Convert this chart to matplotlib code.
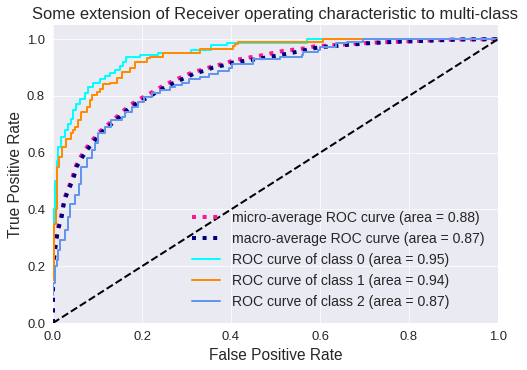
import matplotlib
matplotlib.use("Agg")
import matplotlib.pyplot as plt

plt.style.use("seaborn-v0_8-darkgrid")
plt.rcParams["font.family"] = ["Liberation Sans", "DejaVu Sans"]

title = "Some extension of Receiver operating characteristic to multi-class"
xlabel = "False Positive Rate"
ylabel = "True Positive Rate"

micro_fpr = [0, 0, 0.001, 0.004, 0.008, 0.012, 0.018, 0.023, 0.027, 0.037, 0.045, 0.052, 0.062, 0.074,
             0.089, 0.104, 0.122, 0.14, 0.16, 0.175, 0.196, 0.215, 0.235, 0.255, 0.275, 0.295, 0.315,
             0.338, 0.36, 0.383, 0.405, 0.428, 0.45, 0.473, 0.495, 0.518, 0.54, 0.562, 0.589, 0.63,
             0.68, 0.72, 0.77, 0.82, 0.87, 0.92, 1.0]
micro_tpr = [0, 0.13, 0.2, 0.26, 0.30, 0.34, 0.375, 0.415, 0.445, 0.485, 0.52, 0.555, 0.585, 0.615,
             0.645, 0.673, 0.697, 0.722, 0.75, 0.77, 0.79, 0.806, 0.825, 0.842, 0.857, 0.871, 0.884,
             0.894, 0.905, 0.913, 0.925, 0.932, 0.938, 0.944, 0.952, 0.959, 0.963, 0.967, 0.975, 0.979,
             0.984, 0.988, 0.991, 0.994, 0.997, 0.999, 1.0]

macro_fpr = [0, 0, 0, 0.0007, 0.002, 0.0045, 0.008, 0.012, 0.019, 0.023, 0.027, 0.038, 0.046, 0.053,
             0.064, 0.076, 0.091, 0.106, 0.124, 0.143, 0.162, 0.177, 0.199, 0.218, 0.237, 0.256, 0.278,
             0.297, 0.315, 0.338, 0.36, 0.383, 0.405, 0.443, 0.465, 0.488, 0.51, 0.537, 0.559, 0.581,
             0.607, 0.63, 0.652, 0.679, 0.701, 0.724, 0.772, 0.817, 0.866, 0.915, 1.0]
macro_tpr = [0, 0.03, 0.116, 0.187, 0.222, 0.257, 0.298, 0.333, 0.369, 0.41, 0.439, 0.48, 0.51, 0.55,
             0.58, 0.609, 0.638, 0.668, 0.691, 0.717, 0.744, 0.764, 0.783, 0.799, 0.818, 0.835, 0.85,
             0.864, 0.877, 0.888, 0.9, 0.908, 0.918, 0.926, 0.932, 0.938, 0.944, 0.952, 0.959, 0.967,
             0.973, 0.975, 0.979, 0.982, 0.985, 0.987, 0.991, 0.993, 0.996, 0.999, 1.0]

fpr0 = [0, 0.002, 0.004, 0.008, 0.012, 0.019, 0.027, 0.033, 0.04, 0.046, 0.052, 0.061, 0.072, 0.079,
        0.091, 0.106, 0.117, 0.128, 0.139, 0.151, 0.158, 0.165, 0.195, 0.235, 0.31, 0.355, 0.39, 0.57, 1.0]
tpr0 = [0.30, 0.40, 0.50, 0.57, 0.62, 0.655, 0.68, 0.70, 0.72, 0.75, 0.77, 0.79, 0.81, 0.83,
        0.845, 0.86, 0.87, 0.88, 0.893, 0.905, 0.92, 0.938, 0.944, 0.952, 0.963, 0.979, 0.987, 1.0, 1.0]

fpr1 = [0, 0.003, 0.006, 0.009, 0.013, 0.02, 0.03, 0.04, 0.046, 0.049, 0.057, 0.064, 0.076, 0.083,
        0.087, 0.098, 0.106, 0.113, 0.128, 0.143, 0.154, 0.173, 0.184, 0.211, 0.218, 0.248, 0.33,
        0.404, 0.409, 0.416, 0.607, 1.0]
tpr1 = [0.15, 0.35, 0.40, 0.55, 0.585, 0.62, 0.65, 0.67, 0.68, 0.69, 0.715, 0.745, 0.762, 0.785,
        0.803, 0.814, 0.826, 0.842, 0.845, 0.862, 0.885, 0.90, 0.92, 0.932, 0.938, 0.952, 0.967,
        0.975, 0.982, 0.99, 1.0, 1.0]

fpr2 = [0, 0.001, 0.005, 0.008, 0.012, 0.016, 0.027, 0.034, 0.038, 0.05, 0.058, 0.062, 0.064, 0.076,
        0.088, 0.095, 0.101, 0.117, 0.13, 0.155, 0.162, 0.178, 0.19, 0.205, 0.222, 0.24, 0.262, 0.275,
        0.29, 0.305, 0.33, 0.35, 0.37, 0.395, 0.402, 0.45, 0.51, 0.559, 0.562, 0.596, 0.60, 0.637,
        0.66, 0.697, 1.0]
tpr2 = [0.10, 0.14, 0.20, 0.222, 0.257, 0.292, 0.327, 0.374, 0.421, 0.45, 0.49, 0.52, 0.55, 0.58,
        0.61, 0.633, 0.668, 0.69, 0.717, 0.725, 0.744, 0.762, 0.779, 0.797, 0.809, 0.82, 0.83, 0.838,
        0.846, 0.86, 0.868, 0.879, 0.888, 0.897, 0.912, 0.93, 0.938, 0.944, 0.955, 0.961, 0.973, 0.985,
        0.991, 1.0, 1.0]

labels = ["micro-average ROC curve (area = 0.88)",
          "macro-average ROC curve (area = 0.87)",
          "ROC curve of class 0 (area = 0.95)",
          "ROC curve of class 1 (area = 0.94)",
          "ROC curve of class 2 (area = 0.87)"]

fig = plt.figure(figsize=(527 / 72, 370 / 72), dpi=72)
ax = fig.add_axes([53 / 527, 1 - 323 / 370, 445 / 527, 298 / 370])

ax.plot(micro_fpr, micro_tpr, color="deeppink", linestyle=":", linewidth=4, label=labels[0])
ax.plot(macro_fpr, macro_tpr, color="navy", linestyle=":", linewidth=4, label=labels[1])
ax.plot(fpr0, tpr0, color="aqua", lw=2, drawstyle="steps-post", label=labels[2])
ax.plot(fpr1, tpr1, color="darkorange", lw=2, drawstyle="steps-post", label=labels[3])
ax.plot(fpr2, tpr2, color="cornflowerblue", lw=2, drawstyle="steps-post", label=labels[4])
ax.plot([0, 1], [0, 1], "k--", lw=2)

ax.set_xlim(0.0, 1.0)
ax.set_ylim(0.0, 1.05)
ax.set_xlabel(xlabel, fontsize=15.5, color=".15", labelpad=5)
ax.set_ylabel(ylabel, fontsize=15.5, color=".15", labelpad=4)
ax.set_title(title, fontsize=16.5, color=".15")
ax.tick_params(labelsize=13, colors=".15", pad=8)
ax.legend(loc="lower right", fontsize=14, frameon=False, borderaxespad=0.6)

fig.savefig("out.png", dpi=72)
